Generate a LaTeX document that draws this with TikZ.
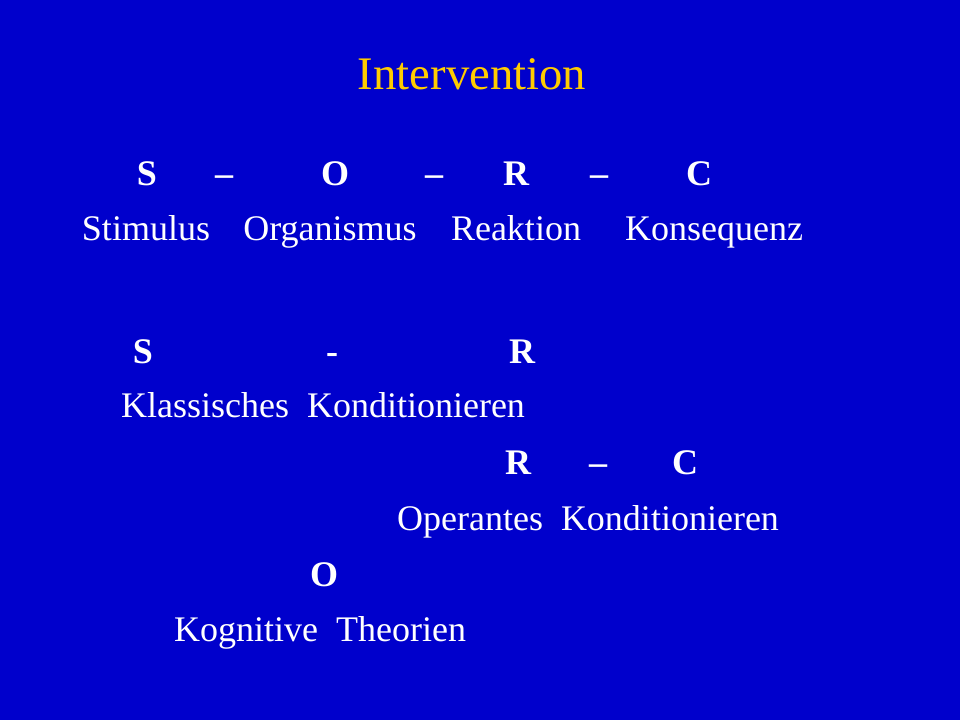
\documentclass[tikz,border=0pt]{standalone}
\usepackage{fontspec}
\setmainfont{Liberation Serif}
\definecolor{bg}{RGB}{0,0,204}
\definecolor{ttl}{RGB}{255,204,0}
\begin{document}
\begin{tikzpicture}[x=0.75pt,y=-0.75pt,
  t/.style={anchor=base,text=white,font=\fontsize{27}{31}\selectfont,inner sep=0pt},
  b/.style={t,font=\fontsize{27}{31}\selectfont\bfseries}]
\fill[bg] (0,0) rectangle (960,720);
\useasboundingbox (0,0) rectangle (960,720);
\node[anchor=base,text=ttl,font=\fontsize{35}{40}\selectfont,inner sep=0pt] (title) at (472,90) {Intervention};
\node[b] (s1) at (147,186) {S};
\node[b] (d1) at (224,186) {–};
\node[b] (o1) at (335,186) {O};
\node[b] (d2) at (434,186) {–};
\node[b] (r1) at (516,186) {R};
\node[b] (d3) at (599,186) {–};
\node[b] (c1) at (699,186) {C};
\node[t] (stim) at (146,241) {Stimulus};
\node[t] (org) at (330,241) {Organismus};
\node[t] (rea) at (516,241) {Reaktion};
\node[t] (kon) at (714,241) {Konsequenz};
\node[b] (s2) at (143,363) {S};
\node[b] (d4) at (332,363) {-};
\node[b] (r2) at (522,363) {R};
\node[t] (kk) at (323,417) {Klassisches\ \ Konditionieren};
\node[b] (r3) at (518,474) {R};
\node[b] (d5) at (598,474) {–};
\node[b] (c3) at (685,474) {C};
\node[t] (ok) at (588,530) {Operantes\ \ Konditionieren};
\node[b] (o3) at (324,586) {O};
\node[t] (kt) at (320,641) {Kognitive\ \ Theorien};
\end{tikzpicture}
\end{document}
